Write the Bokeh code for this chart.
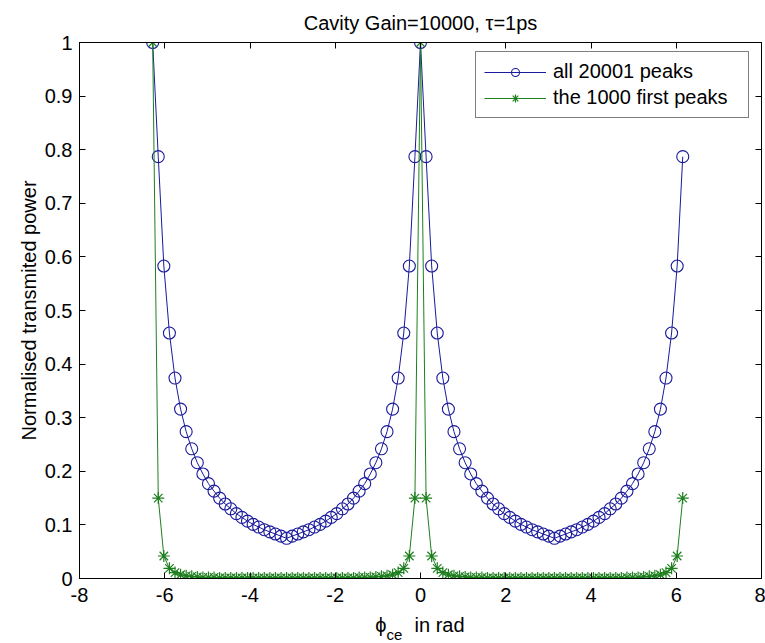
from bokeh.plotting import figure
from bokeh.models import (Range1d, LinearAxis, FixedTicker, CustomJSTickFormatter,
                          Legend, LegendItem)
from bokeh.layouts import column
from bokeh.core.properties import value
from bokeh.embed import file_html
from bokeh.resources import INLINE

TITLE = "Cavity Gain=10000, \u03c4=1ps"
Y_LABEL = "Normalised transmited power"
X_LABEL_SYMBOL = "\u03d5"
X_LABEL_SUB = "ce"
X_LABEL_REST = "in rad"
LABEL_ALL = "all 20001 peaks"
LABEL_FIRST = "the 1000 first peaks"

x_ticks = [-8, -6, -4, -2, 0, 2, 4, 6, 8]
y_ticks = [0, 0.1, 0.2, 0.3, 0.4, 0.5, 0.6, 0.7, 0.8, 0.9, 1]

phi = [-6.2832, -6.1523, -6.0214, -5.8905, -5.7596, -5.6287, -5.4978, -5.3669,
       -5.2360, -5.1051, -4.9742, -4.8433, -4.7124, -4.5815, -4.4506, -4.3197,
       -4.1888, -4.0579, -3.9270, -3.7961, -3.6652, -3.5343, -3.4034, -3.2725,
       -3.1416, -3.0107, -2.8798, -2.7489, -2.6180, -2.4871, -2.3562, -2.2253,
       -2.0944, -1.9635, -1.8326, -1.7017, -1.5708, -1.4399, -1.3090, -1.1781,
       -1.0472, -0.9163, -0.7854, -0.6545, -0.5236, -0.3927, -0.2618, -0.1309,
       0.0, 0.1309, 0.2618, 0.3927, 0.5236, 0.6545, 0.7854, 0.9163,
       1.0472, 1.1781, 1.3090, 1.4399, 1.5708, 1.7017, 1.8326, 1.9635,
       2.0944, 2.2253, 2.3562, 2.4871, 2.6180, 2.7489, 2.8798, 3.0107,
       3.1416, 3.2725, 3.4034, 3.5343, 3.6652, 3.7961, 3.9270, 4.0579,
       4.1888, 4.3197, 4.4506, 4.5815, 4.7124, 4.8433, 4.9742, 5.1051,
       5.2360, 5.3669, 5.4978, 5.6287, 5.7596, 5.8905, 6.0214, 6.1523]

all_peaks = [1.000, 0.787, 0.583, 0.458, 0.374, 0.316, 0.274, 0.242,
             0.216, 0.195, 0.177, 0.163, 0.150, 0.139, 0.130, 0.121,
             0.114, 0.107, 0.101, 0.096, 0.091, 0.087, 0.083, 0.079,
             0.075, 0.079, 0.083, 0.087, 0.091, 0.096, 0.101, 0.107,
             0.114, 0.121, 0.130, 0.139, 0.150, 0.163, 0.177, 0.195,
             0.216, 0.242, 0.274, 0.316, 0.374, 0.458, 0.583, 0.787,
             1.000, 0.787, 0.583, 0.458, 0.374, 0.316, 0.274, 0.242,
             0.216, 0.195, 0.177, 0.163, 0.150, 0.139, 0.130, 0.121,
             0.114, 0.107, 0.101, 0.096, 0.091, 0.087, 0.083, 0.079,
             0.075, 0.079, 0.083, 0.087, 0.091, 0.096, 0.101, 0.107,
             0.114, 0.121, 0.130, 0.139, 0.150, 0.163, 0.177, 0.195,
             0.216, 0.242, 0.274, 0.316, 0.374, 0.458, 0.583, 0.787]

first_peaks = [1.000, 0.150, 0.042, 0.019, 0.011, 0.007, 0.005, 0.004,
               0.003, 0.002, 0.002, 0.002, 0.001, 0.001, 0.001, 0.001,
               0.001, 0.001, 0.001, 0.001, 0.001, 0.001, 0.001, 0.001,
               0.001, 0.001, 0.001, 0.001, 0.001, 0.001, 0.001, 0.001,
               0.001, 0.001, 0.001, 0.001, 0.001, 0.002, 0.002, 0.002,
               0.003, 0.004, 0.005, 0.007, 0.011, 0.019, 0.042, 0.150,
               1.000, 0.150, 0.042, 0.019, 0.011, 0.007, 0.005, 0.004,
               0.003, 0.002, 0.002, 0.002, 0.001, 0.001, 0.001, 0.001,
               0.001, 0.001, 0.001, 0.001, 0.001, 0.001, 0.001, 0.001,
               0.001, 0.001, 0.001, 0.001, 0.001, 0.001, 0.001, 0.001,
               0.001, 0.001, 0.001, 0.001, 0.001, 0.002, 0.002, 0.002,
               0.003, 0.004, 0.005, 0.007, 0.011, 0.019, 0.042, 0.150]

BLUE = "#1a1a9c"
GREEN = "#1e7f1e"
FONT = "Liberation Sans"
FS = "20px"

# ---------------- main plot ----------------
p = figure(width=765, height=610, x_range=Range1d(-8, 8), y_range=Range1d(0, 1),
           output_backend="svg", toolbar_location=None,
           min_border_left=79, min_border_right=4, min_border_top=42, min_border_bottom=32,
           background_fill_color="white", border_fill_color="white")
p.grid.visible = False
p.outline_line_color = "black"

p.title.text = TITLE
p.title.text_font = FONT
p.title.text_font_size = FS
p.title.text_font_style = "normal"
p.title.align = "center"
p.title.text_color = "#000000"
p.title.standoff = 18

fmt = CustomJSTickFormatter(code="return String(Math.round(tick*10)/10);")
blank_fmt = CustomJSTickFormatter(code="return '';")


def style_axis(ax, ticks, show_labels=True):
    ax.ticker = FixedTicker(ticks=ticks)
    ax.formatter = fmt if show_labels else blank_fmt
    ax.major_tick_in = 6
    ax.major_tick_out = 0
    ax.minor_tick_line_color = None
    ax.axis_line_color = "black"
    ax.axis_line_width = 1
    ax.major_tick_line_color = "black"
    ax.major_label_text_font = FONT
    ax.major_label_text_font_size = FS
    ax.major_label_text_color = "#000000"
    if not show_labels:
        ax.major_label_standoff = 0


xa = p.xaxis[0]
ya = p.yaxis[0]
style_axis(xa, x_ticks)
style_axis(ya, y_ticks)
xa.major_label_standoff = 9
ya.major_label_standoff = 7
ya.axis_label = Y_LABEL
ya.axis_label_text_font = FONT
ya.axis_label_text_font_size = FS
ya.axis_label_text_font_style = "normal"
ya.axis_label_text_color = "#000000"
ya.axis_label_standoff = 2

top_ax = LinearAxis()
style_axis(top_ax, x_ticks, show_labels=False)
p.add_layout(top_ax, "above")
right_ax = LinearAxis()
style_axis(right_ax, y_ticks, show_labels=False)
p.add_layout(right_ax, "right")

r_line_b = p.line(phi, all_peaks, line_color=BLUE, line_width=1)
r_mark_b = p.scatter(phi, all_peaks, marker="circle", size=12, fill_color=None,
                     line_color=BLUE, line_width=1.1)
r_line_g = p.line(phi, first_peaks, line_color=GREEN, line_width=1)
r_mark_g = p.scatter(phi, first_peaks, marker="asterisk", size=12,
                     line_color=GREEN, line_width=1.2)

legend = Legend(items=[LegendItem(label=LABEL_ALL, renderers=[r_line_b, r_mark_b]),
                       LegendItem(label=LABEL_FIRST, renderers=[r_line_g, r_mark_g])],
                location=(396, 460))
legend.label_text_font = FONT
legend.label_text_font_size = FS
legend.label_text_color = "#000000"
legend.glyph_width = 62
legend.glyph_height = 20
legend.label_height = 23
legend.label_width = 187
legend.label_standoff = 7
legend.padding = 8
legend.spacing = 3
legend.border_line_color = "black"
legend.border_line_width = 1
legend.background_fill_color = "white"
legend.background_fill_alpha = 1
legend.margin = 0
p.add_layout(legend)

# ---------------- x-axis label strip (phi with subscript) ----------------
p2 = figure(width=765, height=33, x_range=p.x_range, y_range=Range1d(0, 33),
            output_backend="svg", toolbar_location=None,
            x_axis_type=None, y_axis_type=None,
            min_border_left=79, min_border_right=4, min_border_top=0, min_border_bottom=0,
            background_fill_color="white", border_fill_color="white")
p2.outline_line_color = None
p2.grid.visible = False

p2.text(x=[-1.06], y=[19], text=[X_LABEL_SYMBOL], text_font=value(FONT),
        text_font_size=value(FS), text_baseline="alphabetic", text_align="left",
        text_color="#000000")
p2.text(x=[-0.80], y=[9], text=[X_LABEL_SUB], text_font=value(FONT),
        text_font_size=value("15px"), text_baseline="alphabetic", text_align="left",
        text_color="#000000")
p2.text(x=[-0.14], y=[19], text=[X_LABEL_REST], text_font=value(FONT),
        text_font_size=value(FS), text_baseline="alphabetic", text_align="left",
        text_color="#000000")

layout = column(p, p2, spacing=0)
open("out.html", "w").write(file_html(layout, INLINE))
